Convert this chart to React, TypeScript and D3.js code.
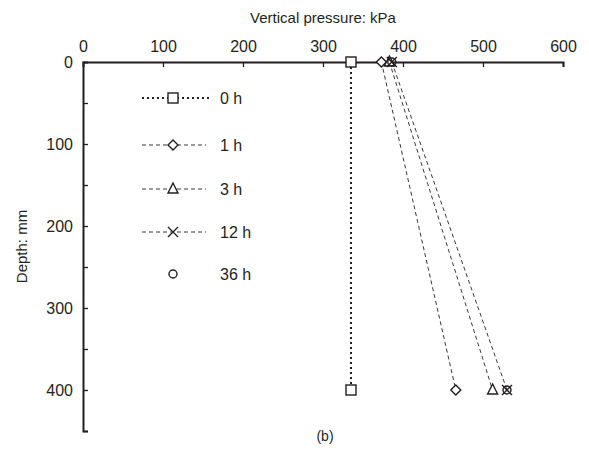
import React, { useRef, useEffect } from 'react';
import * as d3 from 'd3';

// depth (mm) of the two measuring points
const depths = [0, 400];

// vertical pressure (kPa)
const pressure0h = [335, 335];
const pressure1h = [373, 466];
const pressure3h = [383, 512];
const pressure12h = [386, 530];
const pressure36h = [386, 530];

const seriesNames = ['0 h', '1 h', '3 h', '12 h', '36 h'];
const seriesValues = [pressure0h, pressure1h, pressure3h, pressure12h, pressure36h];
const seriesMarkers = ['square', 'diamond', 'triangle', 'cross', 'circle'];
const seriesDash = ['2,3', '4,3', '4,3', '4,3', null];

const xTicks = [0, 100, 200, 300, 400, 500, 600];
const yTicks = [0, 50, 100, 150, 200, 250, 300, 350, 400, 450];

const INK = '#231f20';
const FONT = 'Liberation Sans, Arial, sans-serif';

// draws one open marker centred on (x, y)
const drawMarker = (g, type, x, y) => {
  const s = 5;
  if (type === 'square') {
    g.append('rect').attr('x', x - s).attr('y', y - s).attr('width', 2 * s).attr('height', 2 * s)
      .attr('fill', 'white').attr('stroke', INK).attr('stroke-width', 1.4);
  } else if (type === 'diamond') {
    g.append('path').attr('d', `M${x},${y - s}L${x + s},${y}L${x},${y + s}L${x - s},${y}Z`)
      .attr('fill', 'white').attr('stroke', INK).attr('stroke-width', 1.4);
  } else if (type === 'triangle') {
    g.append('path').attr('d', `M${x},${y - s - 1}L${x + s},${y + s - 1}L${x - s},${y + s - 1}Z`)
      .attr('fill', 'white').attr('stroke', INK).attr('stroke-width', 1.4);
  } else if (type === 'cross') {
    g.append('path').attr('d', `M${x - s},${y - s}L${x + s},${y + s}M${x - s},${y + s}L${x + s},${y - s}`)
      .attr('fill', 'none').attr('stroke', INK).attr('stroke-width', 1.4);
  } else {
    g.append('circle').attr('cx', x).attr('cy', y).attr('r', 4)
      .attr('fill', 'none').attr('stroke', INK).attr('stroke-width', 1.4);
  }
};

const App = () => {
  const ref = useRef(null);
  const width = 589;
  const height = 454;

  useEffect(() => {
    document.body.style.margin = '0';
    const svg = d3.select(ref.current);
    svg.selectAll('*').remove();

    const x = d3.scaleLinear().domain([0, 600]).range([83, 563]);
    const y = d3.scaleLinear().domain([0, 450]).range([62, 431]);

    // top axis (pressure), ticks pointing into the plot
    const xAxis = svg.append('g')
      .attr('transform', `translate(0, ${y(0)})`)
      .call(d3.axisTop(x).tickValues(xTicks).tickSizeInner(-5).tickSizeOuter(-5).tickPadding(10));
    xAxis.select('.domain').attr('stroke', INK).attr('stroke-width', 2);
    xAxis.selectAll('.tick line').attr('stroke', INK).attr('stroke-width', 1.3);
    xAxis.selectAll('.tick').filter(d => d === 0).select('line').remove();
    xAxis.selectAll('text').attr('fill', INK).style('font-size', '16px').style('font-family', FONT);

    // left axis (depth)
    const yAxis = svg.append('g')
      .attr('transform', `translate(${x(0)}, 0)`)
      .call(d3.axisLeft(y).tickValues(yTicks).tickSizeInner(-5).tickSizeOuter(-5).tickPadding(10)
        .tickFormat(d => (d % 100 === 0 && d <= 400 ? String(d) : '')));
    yAxis.select('.domain').attr('stroke', INK).attr('stroke-width', 2);
    yAxis.selectAll('.tick line').attr('stroke', INK).attr('stroke-width', 1.3);
    yAxis.selectAll('.tick').filter(d => d === 0).select('line').remove();
    yAxis.selectAll('text').attr('fill', INK).style('font-size', '16px').style('font-family', FONT);

    // titles
    svg.append('text')
      .attr('x', 323).attr('y', 23).attr('text-anchor', 'middle')
      .attr('fill', INK).style('font-size', '15px').style('font-family', FONT)
      .text('Vertical pressure: kPa');
    svg.append('text')
      .attr('transform', `translate(27, ${(y(100) + y(350)) / 2}) rotate(-90)`)
      .attr('text-anchor', 'middle')
      .attr('fill', INK).style('font-size', '15px').style('font-family', FONT)
      .text('Depth: mm');
    svg.append('text')
      .attr('x', 325).attr('y', 441).attr('text-anchor', 'middle')
      .attr('fill', INK).style('font-size', '14px').style('font-family', FONT)
      .text('(b)');

    // series lines and markers
    const line = d3.line().x(d => x(d[0])).y(d => y(d[1]));
    seriesValues.forEach((vals, i) => {
      const pts = vals.map((v, j) => [v, depths[j]]);
      if (seriesDash[i]) {
        svg.append('path')
          .datum(pts)
          .attr('d', line)
          .attr('fill', 'none')
          .attr('stroke', INK)
          .attr('stroke-width', i === 0 ? 2 : 0.9)
          .attr('stroke-dasharray', seriesDash[i]);
      }
    });
    seriesValues.forEach((vals, i) => {
      const g = svg.append('g');
      vals.forEach((v, j) => drawMarker(g, seriesMarkers[i], x(v), y(depths[j])));
    });

    // legend
    const legendY = [98, 145, 189, 232, 274];
    seriesNames.forEach((name, i) => {
      const g = svg.append('g');
      const ly = legendY[i];
      if (seriesDash[i]) {
        g.append('line')
          .attr('x1', 142).attr('x2', i === 0 ? 210 : 206).attr('y1', ly).attr('y2', ly)
          .attr('stroke', INK)
          .attr('stroke-width', i === 0 ? 2 : 0.9)
          .attr('stroke-dasharray', seriesDash[i]);
      }
      drawMarker(g, seriesMarkers[i], 173, ly);
      g.append('text')
        .attr('x', 220).attr('y', ly + 5.5)
        .attr('fill', INK).style('font-size', '16px').style('font-family', FONT)
        .text(name);
    });
  }, []);

  return <svg ref={ref} width={width} height={height} style={{ display: 'block', background: 'white' }} />;
};

export default App;
